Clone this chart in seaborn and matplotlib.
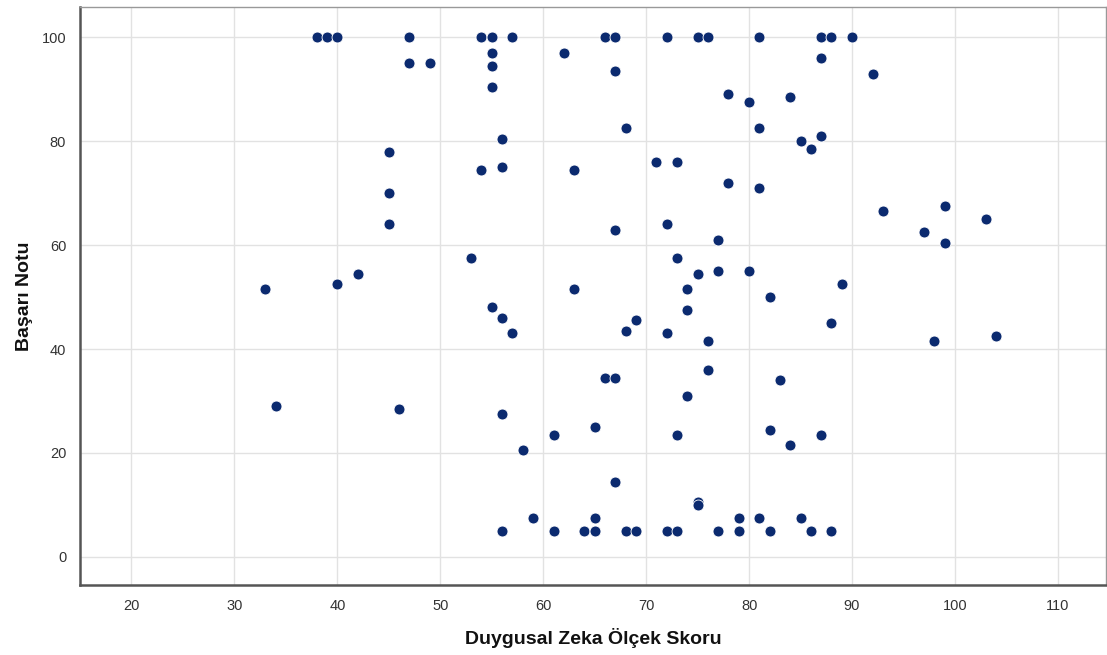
import seaborn as sns
import pandas as pd
import matplotlib.pyplot as plt

# Duygusal Zeka Olcek Skoru (x) ve Basari Notu (y)
dz_skor = [38, 39, 40, 47, 54, 55, 57, 66, 67, 72, 75, 76, 81, 87, 88, 90,
           55, 47, 49, 55, 55, 62, 67, 87, 78, 80, 84, 68, 81, 85, 86, 87,
           56, 45, 54, 56, 45, 63, 71, 73, 78, 81,
           92, 93, 99, 103, 45, 97, 99,
           33, 40, 42, 53, 55, 56, 57, 67, 72, 77, 73, 75, 77, 80, 89,
           63, 74, 82, 74, 69, 68, 72, 76, 88, 98, 104,
           66, 67, 76, 83, 74, 34, 46, 56, 61, 58, 65, 73, 82, 84, 87,
           67, 75, 75, 59, 65, 79, 81, 85,
           56, 61, 64, 65, 68, 69, 72, 73, 77, 79, 82, 86, 88]
basari_notu = [100, 100, 100, 100, 100, 100, 100, 100, 100, 100, 100, 100, 100, 100, 100, 100,
               97, 95, 95, 94.5, 90.5, 97, 93.5, 96, 89, 87.5, 88.5, 82.5, 82.5, 80, 78.5, 81,
               80.5, 78, 74.5, 75, 70, 74.5, 76, 76, 72, 71,
               93, 66.5, 67.5, 65, 64, 62.5, 60.5,
               51.5, 52.5, 54.5, 57.5, 48, 46, 43, 63, 64, 61, 57.5, 54.5, 55, 55, 52.5,
               51.5, 51.5, 50, 47.5, 45.5, 43.5, 43, 41.5, 45, 41.5, 42.5,
               34.5, 34.5, 36, 34, 31, 29, 28.5, 27.5, 23.5, 20.5, 25, 23.5, 24.5, 21.5, 23.5,
               14.5, 10.5, 10, 7.5, 7.5, 7.5, 7.5, 7.5,
               5, 5, 5, 5, 5, 5, 5, 5, 5, 5, 5, 5, 5]

x_ticks = [20, 30, 40, 50, 60, 70, 80, 90, 100, 110]
y_ticks = [0, 20, 40, 60, 80, 100]

df = pd.DataFrame({'dz': dz_skor, 'notu': basari_notu})

sns.set_theme(style='whitegrid')
plt.rcParams['font.family'] = ['Liberation Sans', 'DejaVu Sans']

fig = plt.figure(figsize=(11.07, 6.55), dpi=100)
ax = fig.add_axes([0.0723, 0.107, 0.927, 0.882])

sns.scatterplot(data=df, x='dz', y='notu', ax=ax, color='#0b2a6f', s=62,
                edgecolor='white', linewidth=0.6, zorder=3)

ax.set_xlim(15, 114.7)
ax.set_ylim(-5.4, 105.8)
ax.set_xticks(x_ticks)
ax.set_yticks(y_ticks)
ax.grid(color='#e2e2e2', linewidth=1)
ax.tick_params(length=0, labelsize=10.5, labelcolor='#333333', pad=10)

for side in ['left', 'bottom']:
    ax.spines[side].set_color('#555555')
    ax.spines[side].set_linewidth(1.8)
for side in ['top', 'right']:
    ax.spines[side].set_color('#999999')
    ax.spines[side].set_linewidth(1)

ax.set_xlabel('Duygusal Zeka Ölçek Skoru', fontsize=14, fontweight='bold', color='#111111', labelpad=11)
ax.set_ylabel('Başarı Notu', fontsize=14, fontweight='bold', color='#111111', labelpad=6)

fig.savefig('out.png', dpi=100)
